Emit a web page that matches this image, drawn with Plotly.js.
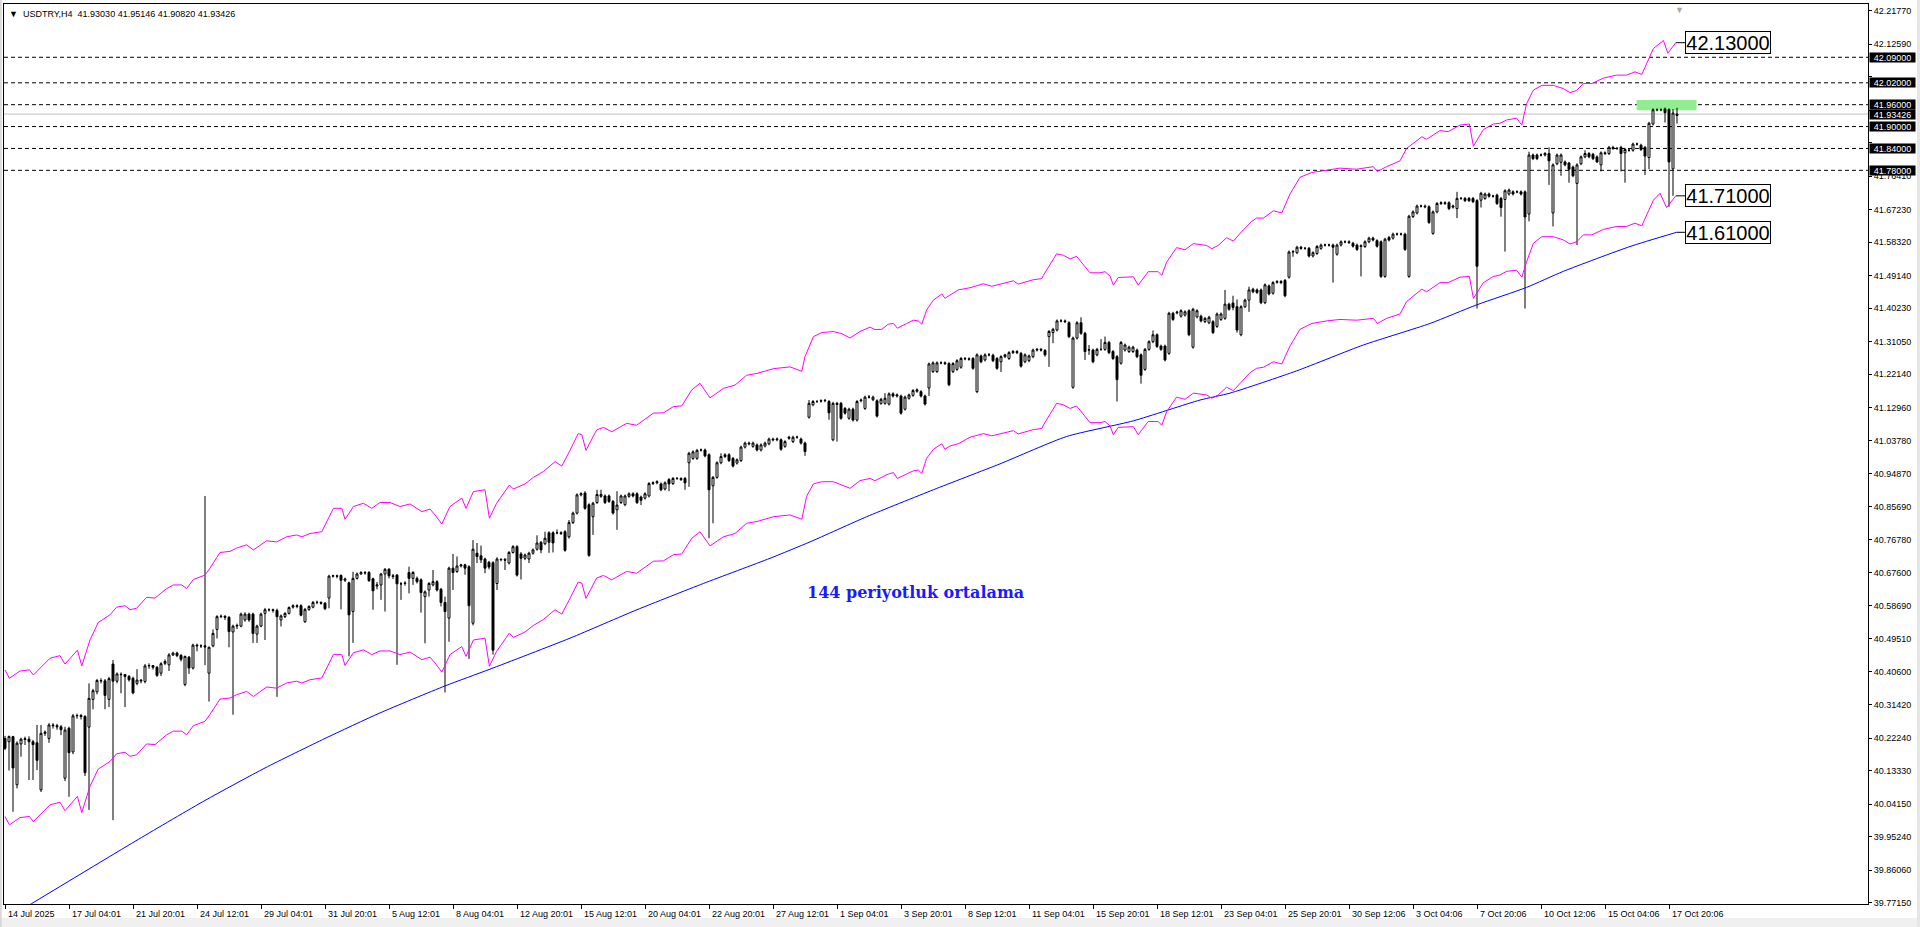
<!DOCTYPE html>
<html>
<head>
<meta charset="utf-8">
<script src="https://cdn.plot.ly/plotly-3.0.1.min.js"></script>
<style>html,body{margin:0;padding:0;background:#fff;overflow:hidden}#chart{width:1920px;height:927px}</style>
</head>
<body>
<div id="chart"></div>
<script>
// ---- H4 candles (USDTRY), one value per bar ----
const open = [
40.222,40.213,40.227,40.095,40.207,40.219,40.220,40.213,40.210,40.081,
40.236,40.222,40.259,40.257,40.254,40.113,40.250,40.185,40.284,40.285,
40.282,40.253,40.329,40.350,40.381,40.380,40.329,40.426,40.379,40.398,
40.397,40.392,40.387,40.373,40.382,40.378,40.421,40.422,40.417,40.401,
40.428,40.424,40.451,40.456,40.450,40.370,40.445,40.415,40.478,40.476,
40.476,40.401,40.476,40.521,40.556,40.557,40.554,40.514,40.530,40.530,
40.547,40.563,40.563,40.508,40.530,40.565,40.575,40.575,40.573,40.547,
40.556,40.565,40.582,40.586,40.586,40.542,40.576,40.582,40.595,40.595,
40.593,40.607,40.667,40.668,40.669,40.656,40.649,40.570,40.661,40.673,
40.677,40.677,40.660,40.640,40.643,40.673,40.686,40.668,40.670,40.646,
40.647,40.677,40.661,40.661,40.657,40.611,40.629,40.643,40.652,40.631,
40.595,40.552,40.689,40.680,40.695,40.698,40.693,40.538,40.730,40.723,
40.714,40.705,40.704,40.647,40.712,40.713,40.703,40.732,40.748,40.728,
40.716,40.714,40.730,40.741,40.760,40.756,40.786,40.786,40.786,40.786,
40.789,40.775,40.814,40.840,40.890,40.895,40.863,40.830,40.869,40.886,
40.887,40.887,40.872,40.849,40.869,40.863,40.886,40.893,40.893,40.884,
40.881,40.887,40.921,40.923,40.920,40.906,40.932,40.921,40.935,40.935,
40.935,40.978,40.990,40.990,41.013,41.013,41.000,40.915,40.938,40.978,
40.995,41.000,40.990,40.977,40.984,41.021,41.032,41.023,41.027,41.013,
41.024,41.030,41.043,41.041,41.041,41.023,41.045,41.036,41.048,41.043,
41.032,41.103,41.137,41.146,41.147,41.148,41.146,41.041,41.141,41.141,
41.127,41.100,41.125,41.095,41.148,41.127,41.158,41.151,41.148,41.141,
41.141,41.139,41.167,41.161,41.161,41.125,41.155,41.163,41.174,41.173,
41.161,41.183,41.228,41.228,41.252,41.252,41.250,41.228,41.234,41.240,
41.264,41.263,41.264,41.173,41.271,41.260,41.274,41.273,41.264,41.255,
41.269,41.264,41.280,41.283,41.278,41.255,41.258,41.269,41.287,41.289,
41.286,41.324,41.335,41.342,41.367,41.367,41.362,41.185,41.320,41.362,
41.333,41.287,41.287,41.274,41.289,41.289,41.308,41.283,41.269,41.251,
41.287,41.283,41.283,41.287,41.274,41.234,41.289,41.310,41.329,41.298,
41.298,41.278,41.388,41.389,41.380,41.383,41.395,41.295,41.378,41.380,
41.365,41.362,41.365,41.352,41.371,41.374,41.413,41.416,41.406,41.329,
41.406,41.424,41.454,41.452,41.452,41.417,41.463,41.443,41.473,41.475,
41.478,41.487,41.556,41.554,41.569,41.566,41.566,41.545,41.552,41.566,
41.575,41.575,41.575,41.550,41.575,41.584,41.584,41.580,41.575,41.571,
41.571,41.584,41.594,41.587,41.584,41.489,41.596,41.594,41.605,41.605,
41.605,41.489,41.653,41.663,41.682,41.682,41.680,41.607,41.666,41.689,
41.691,41.691,41.679,41.675,41.703,41.703,41.703,41.703,41.697,41.698,
41.703,41.715,41.709,41.712,41.703,41.700,41.715,41.721,41.721,41.721,
41.721,41.660,41.822,41.822,41.822,41.822,41.826,41.663,41.798,41.802,
41.803,41.800,41.789,41.744,41.798,41.817,41.826,41.824,41.817,41.795,
41.828,41.826,41.843,41.840,41.843,41.828,41.835,41.835,41.852,41.849,
41.843,41.815,41.907,41.946,41.946,41.948,41.946,41.784,41.93030
];
const high = [
40.229,40.230,40.229,40.214,40.224,40.227,40.228,40.218,40.259,40.259,
40.244,40.264,40.264,40.262,40.259,40.254,40.254,40.289,40.290,40.289,
40.286,40.373,40.358,40.385,40.387,40.385,40.391,40.437,40.403,40.403,
40.399,40.396,40.391,40.412,40.385,40.426,40.428,40.423,40.421,40.431,
40.439,40.456,40.460,40.460,40.453,40.449,40.448,40.482,40.482,40.480,
40.887,40.474,40.521,40.560,40.562,40.560,40.558,40.534,40.537,40.567,
40.568,40.567,40.567,40.534,40.567,40.580,40.579,40.578,40.578,40.562,
40.568,40.584,40.590,40.590,40.590,40.580,40.587,40.599,40.600,40.598,
40.596,40.671,40.671,40.671,40.672,40.663,40.652,40.679,40.677,40.681,
40.681,40.681,40.663,40.651,40.676,40.689,40.689,40.673,40.673,40.651,
40.653,40.693,40.681,40.666,40.661,40.628,40.651,40.684,40.656,40.635,
40.611,40.693,40.728,40.721,40.701,40.701,40.697,40.766,40.758,40.751,
40.718,40.709,40.708,40.719,40.716,40.717,40.736,40.752,40.752,40.733,
40.729,40.734,40.743,40.779,40.763,40.789,40.790,40.790,40.795,40.790,
40.793,40.821,40.844,40.894,40.897,40.900,40.867,40.871,40.904,40.904,
40.891,40.891,40.876,40.900,40.891,40.891,40.897,40.897,40.897,40.888,
40.897,40.925,40.927,40.930,40.924,40.927,40.936,40.939,40.939,40.938,
40.939,41.008,41.012,41.016,41.017,41.017,41.004,40.942,40.982,41.004,
41.004,41.004,40.994,40.990,41.025,41.036,41.036,41.036,41.031,41.031,
41.036,41.047,41.047,41.047,41.045,41.040,41.052,41.052,41.052,41.047,
41.036,41.150,41.150,41.150,41.152,41.153,41.150,41.145,41.145,41.145,
41.131,41.129,41.129,41.150,41.154,41.162,41.164,41.162,41.152,41.156,
41.169,41.171,41.171,41.168,41.165,41.162,41.168,41.180,41.182,41.177,
41.165,41.253,41.256,41.256,41.256,41.256,41.254,41.254,41.262,41.268,
41.268,41.267,41.268,41.278,41.275,41.278,41.279,41.277,41.268,41.273,
41.277,41.284,41.287,41.287,41.282,41.278,41.275,41.291,41.293,41.293,
41.290,41.342,41.348,41.371,41.372,41.371,41.366,41.324,41.366,41.377,
41.337,41.301,41.291,41.293,41.317,41.324,41.312,41.287,41.273,41.312,
41.305,41.299,41.299,41.291,41.278,41.293,41.314,41.341,41.333,41.302,
41.302,41.392,41.392,41.395,41.399,41.396,41.399,41.403,41.399,41.384,
41.378,41.381,41.369,41.390,41.390,41.452,41.417,41.436,41.426,41.410,
41.428,41.461,41.458,41.456,41.456,41.470,41.467,41.476,41.479,41.479,
41.482,41.560,41.561,41.573,41.573,41.570,41.570,41.558,41.575,41.579,
41.579,41.579,41.579,41.579,41.588,41.588,41.588,41.584,41.579,41.577,
41.588,41.598,41.598,41.591,41.588,41.595,41.600,41.609,41.609,41.609,
41.609,41.658,41.670,41.686,41.686,41.686,41.684,41.670,41.693,41.695,
41.695,41.695,41.686,41.721,41.707,41.707,41.707,41.707,41.701,41.721,
41.719,41.719,41.713,41.716,41.707,41.728,41.730,41.725,41.725,41.725,
41.725,41.831,41.826,41.826,41.826,41.830,41.843,41.799,41.826,41.826,
41.807,41.803,41.793,41.799,41.821,41.835,41.830,41.828,41.821,41.832,
41.832,41.847,41.847,41.844,41.847,41.841,41.839,41.856,41.856,41.853,
41.847,41.913,41.950,41.950,41.950,41.952,41.950,41.948,41.95146
];
const low = [
40.190,40.134,40.021,40.085,40.172,40.204,40.108,40.108,40.135,40.075,
40.229,40.210,40.249,40.246,40.231,40.105,40.062,40.179,40.276,40.274,
40.119,40.026,40.302,40.343,40.373,40.302,40.308,39.998,40.373,40.346,
40.308,40.378,40.343,40.368,40.373,40.373,40.413,40.411,40.391,40.393,
40.423,40.407,40.448,40.445,40.433,40.365,40.399,40.411,40.461,40.470,
40.423,40.323,40.472,40.496,40.552,40.547,40.472,40.287,40.522,40.527,
40.542,40.542,40.484,40.484,40.527,40.492,40.570,40.567,40.336,40.529,
40.552,40.562,40.578,40.579,40.557,40.539,40.572,40.579,40.590,40.589,
40.574,40.579,40.663,40.661,40.576,40.651,40.447,40.484,40.658,40.671,
40.671,40.651,40.575,40.631,40.602,40.570,40.661,40.659,40.424,40.602,
40.641,40.620,40.643,40.647,40.567,40.483,40.611,40.639,40.625,40.584,
40.348,40.487,40.629,40.676,40.691,40.671,40.440,40.532,40.703,40.703,
40.675,40.686,40.452,40.629,40.708,40.684,40.699,40.729,40.666,40.658,
40.711,40.703,40.726,40.737,40.730,40.752,40.731,40.732,40.782,40.780,
40.734,40.770,40.810,40.836,40.886,40.849,40.720,40.780,40.865,40.882,
40.865,40.868,40.836,40.794,40.865,40.859,40.882,40.883,40.865,40.862,
40.877,40.883,40.917,40.919,40.900,40.902,40.900,40.917,40.931,40.928,
40.904,40.912,40.986,40.986,41.009,40.993,40.771,40.812,40.934,40.974,
40.991,40.980,40.965,40.973,40.980,41.017,41.026,41.019,41.009,41.009,
41.020,41.026,41.037,41.037,41.011,41.019,41.041,41.032,41.044,41.028,
40.997,41.099,41.133,41.142,41.143,41.144,41.096,41.037,41.036,41.096,
41.110,41.096,41.091,41.091,41.144,41.123,41.154,41.147,41.102,41.137,
41.137,41.135,41.157,41.157,41.110,41.121,41.151,41.159,41.170,41.157,
41.135,41.161,41.224,41.224,41.248,41.246,41.188,41.224,41.230,41.236,
41.259,41.258,41.233,41.169,41.251,41.256,41.270,41.254,41.233,41.227,
41.265,41.260,41.276,41.276,41.239,41.251,41.254,41.265,41.283,41.283,
41.269,41.241,41.306,41.338,41.363,41.361,41.320,41.181,41.316,41.329,
41.260,41.274,41.251,41.270,41.285,41.285,41.276,41.260,41.146,41.247,
41.283,41.279,41.279,41.265,41.195,41.230,41.285,41.306,41.293,41.285,
41.256,41.274,41.367,41.385,41.376,41.379,41.325,41.291,41.374,41.363,
41.361,41.358,41.331,41.348,41.367,41.370,41.395,41.396,41.335,41.325,
41.402,41.392,41.443,41.441,41.413,41.413,41.437,41.439,41.469,41.468,
41.432,41.483,41.543,41.550,41.562,41.562,41.541,41.541,41.548,41.562,
41.571,41.571,41.472,41.546,41.571,41.580,41.578,41.568,41.559,41.489,
41.567,41.580,41.585,41.568,41.485,41.485,41.585,41.590,41.601,41.601,
41.559,41.485,41.649,41.659,41.678,41.676,41.633,41.603,41.662,41.685,
41.685,41.671,41.675,41.649,41.699,41.693,41.693,41.690,41.401,41.678,
41.699,41.705,41.705,41.685,41.653,41.557,41.711,41.711,41.717,41.711,
41.401,41.640,41.808,41.808,41.818,41.818,41.740,41.626,41.794,41.765,
41.791,41.746,41.761,41.575,41.794,41.813,41.813,41.808,41.800,41.777,
41.822,41.822,41.836,41.836,41.777,41.746,41.831,41.831,41.848,41.833,
41.767,41.783,41.903,41.942,41.942,41.911,41.680,41.710,41.90820
];
const close = [
40.195,40.227,40.141,40.209,40.220,40.221,40.213,40.205,40.162,40.236,
40.239,40.259,40.257,40.254,40.246,40.245,40.183,40.284,40.285,40.282,
40.128,40.332,40.353,40.381,40.380,40.340,40.386,40.379,40.399,40.397,
40.392,40.383,40.347,40.382,40.380,40.421,40.422,40.417,40.395,40.427,
40.433,40.451,40.456,40.449,40.439,40.447,40.415,40.478,40.476,40.476,
40.473,40.472,40.510,40.556,40.557,40.554,40.515,40.530,40.532,40.563,
40.563,40.547,40.510,40.530,40.563,40.575,40.575,40.573,40.556,40.558,
40.565,40.581,40.586,40.584,40.560,40.576,40.584,40.595,40.595,40.593,
40.578,40.667,40.668,40.667,40.656,40.659,40.561,40.661,40.673,40.677,
40.676,40.655,40.627,40.643,40.673,40.686,40.668,40.666,40.646,40.646,
40.648,40.661,40.677,40.652,40.622,40.624,40.647,40.652,40.629,40.595,
40.570,40.689,40.677,40.695,40.698,40.689,40.586,40.741,40.721,40.712,
40.689,40.692,40.464,40.714,40.713,40.711,40.732,40.748,40.670,40.716,
40.725,40.730,40.739,40.758,40.739,40.771,40.760,40.758,40.786,40.784,
40.738,40.814,40.840,40.890,40.893,40.853,40.724,40.867,40.891,40.891,
40.869,40.872,40.840,40.862,40.887,40.887,40.893,40.887,40.869,40.875,
40.893,40.921,40.923,40.926,40.904,40.923,40.920,40.935,40.935,40.932,
40.923,41.004,41.008,41.012,41.013,40.997,40.904,40.938,40.978,40.995,
41.000,40.984,40.969,40.986,41.021,41.032,41.030,41.032,41.013,41.027,
41.032,41.043,41.041,41.043,41.015,41.036,41.048,41.048,41.048,41.032,
41.009,41.141,41.146,41.146,41.148,41.149,41.115,41.141,41.138,41.100,
41.114,41.125,41.095,41.146,41.150,41.158,41.158,41.158,41.106,41.152,
41.155,41.167,41.161,41.164,41.114,41.158,41.164,41.176,41.178,41.161,
41.139,41.249,41.252,41.252,41.252,41.250,41.192,41.250,41.258,41.264,
41.263,41.262,41.237,41.274,41.255,41.274,41.274,41.258,41.237,41.269,
41.274,41.280,41.283,41.280,41.243,41.274,41.271,41.287,41.289,41.287,
41.274,41.338,41.344,41.367,41.367,41.365,41.324,41.320,41.362,41.333,
41.283,41.288,41.255,41.289,41.289,41.308,41.280,41.264,41.206,41.308,
41.301,41.295,41.295,41.269,41.218,41.289,41.310,41.329,41.297,41.289,
41.260,41.388,41.371,41.391,41.395,41.392,41.329,41.399,41.395,41.367,
41.374,41.377,41.335,41.386,41.386,41.413,41.399,41.404,41.342,41.406,
41.424,41.452,41.447,41.445,41.417,41.466,41.441,41.472,41.475,41.472,
41.436,41.556,41.557,41.569,41.566,41.566,41.545,41.554,41.571,41.575,
41.575,41.575,41.569,41.575,41.584,41.584,41.582,41.572,41.563,41.573,
41.584,41.594,41.589,41.572,41.489,41.591,41.589,41.605,41.605,41.605,
41.563,41.654,41.666,41.682,41.682,41.680,41.637,41.666,41.689,41.691,
41.689,41.675,41.682,41.703,41.703,41.697,41.697,41.694,41.517,41.717,
41.715,41.709,41.709,41.689,41.678,41.724,41.726,41.715,41.721,41.715,
41.652,41.822,41.812,41.812,41.822,41.826,41.806,41.795,41.822,41.822,
41.795,41.783,41.765,41.795,41.817,41.826,41.817,41.812,41.803,41.828,
41.826,41.843,41.840,41.840,41.826,41.837,41.835,41.852,41.852,41.837,
41.819,41.909,41.946,41.946,41.946,41.938,41.803,41.937,41.93426
];

// ---- Envelope upper band (bar position, price) ----
const upperX = [0,1.1,3.75,6.1,7.1,9.2,11.25,13.75,15,18.1,19.2,21.25,23.3,26.25,27.9,30,31.25,32.9,35.4,37.5,
40.4,42.1,44.2,45.4,47.1,50,51.25,53.75,56.25,57.9,60.4,62.1,65.4,67.9,70.4,72.9,74.2,76.25,79.2,82.1,
84.2,85,87.1,89.6,91.7,93.75,96.25,98.75,101.25,104.2,106.25,107.5,109.2,111.25,114.2,115.25,117.1,120,121.1,122.9,
126.1,127.1,130,132.1,134.6,137.5,139.2,141.25,143.3,144.2,145.25,147.9,149.6,151.7,155.4,157.9,162.1,164.6,167.1,169.2,
171.7,173.75,176.25,179.6,182.5,185.4,188,192.1,196.25,199.2,200,202.1,204.2,207.1,209.2,211.25,213.75,216.25,217.5,219.2,
220.8,222.1,223.1,225.4,227.1,228.3,229.2,230.4,232.1,234.2,235,236.25,238.3,241.25,244.6,246.7,248.75,252.1,253.3,257.1,
259.2,259.6,262.9,264.6,266.25,267.9,271.25,273.75,275,276.25,277.1,278.3,282.1,283.3,285.8,288.3,289.2,290.4,292.9,295,
297.1,300.4,301.7,303.3,305.4,307.1,309.6,311.7,312.9,314.6,317.1,319.2,321.25,323.75,326.7,330.4,333.75,337.9,342.1,343.1,
345.4,348.75,350.4,354.2,355.4,358.75,360.8,363.75,366.1,367.1,369.6,372.1,373.75,375.4,377.9,379.2,380.4,382.1,384.2,387.1,
389.6,391.25,392.9,394.6,396.7,399.6,402.9,405.4,407.5,409.2,412.1,414.6,415.7,417.7];
const upperY = [40.410,40.387,40.407,40.410,40.396,40.419,40.442,40.449,40.426,40.464,40.421,40.492,40.540,40.561,40.582,40.586,40.575,40.579,40.609,40.607,
40.633,40.643,40.643,40.633,40.658,40.670,40.689,40.732,40.735,40.744,40.753,40.739,40.764,40.761,40.775,40.780,40.775,40.784,40.789,40.853,
40.853,40.823,40.858,40.867,40.853,40.869,40.869,40.858,40.865,40.844,40.851,40.835,40.810,40.858,40.881,40.853,40.899,40.904,40.826,40.867,
40.917,40.906,40.920,40.938,40.954,40.981,40.969,41.012,41.058,41.055,41.012,41.068,41.075,41.063,41.086,41.081,41.114,41.115,41.132,41.134,
41.178,41.196,41.156,41.182,41.191,41.218,41.223,41.236,41.241,41.229,41.269,41.324,41.335,41.338,41.332,41.320,41.338,41.350,41.343,41.344,
41.358,41.360,41.347,41.360,41.369,41.367,41.358,41.397,41.424,41.441,41.429,41.438,41.452,41.458,41.469,41.462,41.468,41.477,41.468,41.480,
41.483,41.492,41.551,41.547,41.537,41.544,41.499,41.499,41.502,41.490,41.465,41.486,41.488,41.465,41.502,41.502,41.492,41.528,41.568,41.562,
41.579,41.574,41.565,41.574,41.595,41.586,41.617,41.640,41.649,41.649,41.669,41.663,41.715,41.761,41.774,41.781,41.786,41.783,41.790,41.777,
41.790,41.806,41.840,41.872,41.865,41.889,41.886,41.904,41.907,41.846,41.892,41.907,41.909,41.918,41.923,41.904,41.963,42.000,42.013,42.013,
42.004,41.993,41.999,42.018,42.018,42.033,42.041,42.041,42.050,42.043,42.114,42.136,42.101,42.130];

// ---- Envelope lower band ----
const lowerX = [0,1.1,3.75,6.1,7.1,9.2,11.25,13.75,15,18.1,19.2,21.25,23.3,26.25,27.9,30,31.25,32.9,35.4,37.5,
40.4,42.1,44.2,45.4,47.1,50,51.25,53.75,56.25,57.9,60.4,62.1,65.4,67.9,70.4,72.9,74.2,76.25,79.2,82.1,
84.2,85,87.1,89.6,91.7,93.75,96.25,98.75,101.25,104.2,106.25,107.5,109.2,111.25,114.2,115.25,117.1,120,121.1,122.9,
126.1,127.1,130,132.1,134.6,137.5,139.2,141.25,143.3,144.2,145.25,147.9,149.6,151.7,155.4,157.9,162.1,164.6,167.1,169.2,
171.7,173.75,176.25,179.6,182.5,185.4,188,192.1,196.25,199.2,
200.4,202.1,204.2,207.1,209.2,211.25,213.75,216.25,217.5,220.8,222.1,223.1,225.4,227.1,228.3,229.2,230.4,232.1,234.2,235,
236.25,238.3,241.25,244.6,246.7,248.75,252.1,253.3,257.1,259.2,259.6,262.9,264.6,266.25,267.9,271.25,273.75,275,276.25,277.1,
278.3,282.1,283.3,285.8,288.3,289.2,290.4,292.9,295,297.1,300.4,301.7,303.3,305.4,307.1,
311.25,312.9,314.6,317.1,319.2,321.25,323.75,326.7,330.4,333.75,337.9,342.1,343.1,345.4,348.75,350.4,354.2,355.4,358.75,360.8,
363.75,366.1,367.1,369.6,372.1,373.75,375.4,377.9,379.2,380.4,382.1,384.2,387.1,389.6,391.25,392.9,394.6,396.7,399.6,402.9,
405.4,407.5,409.2,412.1,413.75,415.4,417.7];
const lowerY = [40.008,39.985,40.005,40.008,39.994,40.017,40.040,40.047,40.024,40.063,40.019,40.091,40.138,40.159,40.180,40.184,40.173,40.177,40.207,40.205,
40.232,40.242,40.242,40.232,40.257,40.269,40.288,40.330,40.333,40.342,40.351,40.337,40.363,40.360,40.374,40.379,40.374,40.383,40.388,40.452,
40.452,40.422,40.457,40.465,40.452,40.462,40.462,40.452,40.459,40.438,40.445,40.429,40.404,40.452,40.474,40.447,40.492,40.497,40.420,40.461,
40.511,40.499,40.514,40.532,40.548,40.575,40.563,40.606,40.651,40.648,40.606,40.662,40.669,40.657,40.680,40.675,40.708,40.709,40.726,40.728,
40.771,40.789,40.750,40.775,40.784,40.812,40.817,40.830,40.835,40.823,
40.886,40.920,40.926,40.926,40.917,40.908,40.929,40.935,40.929,40.947,40.951,40.935,40.947,40.956,40.958,40.949,40.990,41.015,41.030,41.015,
41.024,41.030,41.048,41.058,41.052,41.057,41.066,41.057,41.069,41.072,41.081,41.141,41.137,41.127,41.134,41.088,41.088,41.091,41.079,41.055,
41.075,41.077,41.055,41.091,41.091,41.081,41.118,41.158,41.152,41.169,41.164,41.155,41.164,41.185,41.176,
41.225,41.237,41.240,41.255,41.249,41.298,41.344,41.360,41.367,41.371,41.369,41.374,41.360,41.374,41.386,41.420,41.454,41.447,41.472,41.472,
41.487,41.489,41.429,41.472,41.489,41.493,41.503,41.506,41.487,41.529,41.580,41.598,41.598,41.589,41.578,41.584,41.603,41.603,41.618,41.626,
41.626,41.635,41.628,41.698,41.717,41.678,41.710];

// ---- 144-period moving average ----
const maX = [0,33.3,50,65,80,93.75,110,121.25,141.25,158,174.6,191.25,201.25,215.4,232.1,248.75,265.4,282.1,298.75,306.25,322.9,339.6,356.25,367.9,380.4,389.6,406.25,417.9];
const maY = [39.725,39.945,40.052,40.141,40.222,40.292,40.366,40.412,40.497,40.575,40.647,40.716,40.761,40.830,40.904,40.975,41.050,41.093,41.150,41.169,41.230,41.301,41.360,41.411,41.459,41.503,41.571,41.610];

// ---- axis labels / levels ----
const yTicks = [42.2177,42.1259,42.0368,41.9450,41.8559,41.7641,41.6723,41.5832,41.4914,41.4023,41.3105,41.2214,41.1296,41.0378,
40.9487,40.8569,40.7678,40.6760,40.5869,40.4951,40.4060,40.3142,40.2224,40.1333,40.0415,39.9524,39.8606,39.7715];
const coveredTicks = [42.0368,41.9450,41.8559];   // hidden behind the level boxes in the reference
const xLabelBars = [0,16,32,48,64,80,96,112,128,144,160,176,192,208,224,240,256,272,288,304,320,336,352,368,384,400,416];
const xLabelText = ['14 Jul 2025','17 Jul 04:01','21 Jul 20:01','24 Jul 12:01','29 Jul 04:01','31 Jul 20:01','5 Aug 12:01',
'8 Aug 04:01','12 Aug 20:01','15 Aug 12:01','20 Aug 04:01','22 Aug 20:01','27 Aug 12:01','1 Sep 04:01','3 Sep 20:01',
'8 Sep 12:01','11 Sep 04:01','15 Sep 20:01','18 Sep 12:01','23 Sep 04:01','25 Sep 20:01','30 Sep 12:06','3 Oct 04:06',
'7 Oct 20:06','10 Oct 12:06','15 Oct 04:06','17 Oct 20:06'];
const levels = [42.09,42.02,41.96,41.90,41.84,41.78];
const bidPrice = 41.93426;
const priceLabels = [42.13,41.71,41.61];
const header = 'USDTRY,H4';
const headerOHLC = [41.93030,41.95146,41.90820,41.93426];

const barIdx = close.map((_, i) => i);
const F = 'Liberation Sans, Arial, sans-serif';

const traces = [
  {type:'scatter', mode:'lines', x:maX, y:maY, line:{color:'#0000ff', width:1, shape:'spline', smoothing:0.6}, hoverinfo:'skip'},
  {type:'scatter', mode:'lines', x:upperX, y:upperY, line:{color:'#ff00ff', width:1}, hoverinfo:'skip'},
  {type:'scatter', mode:'lines', x:lowerX, y:lowerY, line:{color:'#ff00ff', width:1}, hoverinfo:'skip'},
  {type:'candlestick', x:barIdx, open:open, high:high, low:low, close:close,
   increasing:{line:{color:'#000000', width:1}, fillcolor:'#ffffff'},
   decreasing:{line:{color:'#000000', width:1}, fillcolor:'#000000'},
   whiskerwidth:0, hoverinfo:'skip'}
];

const shapes = [];
// window chrome
shapes.push({type:'rect', xref:'paper', yref:'paper', x0:-0.0022, x1:1.028, y0:-0.0156, y1:-0.026, fillcolor:'#f0f0f0', line:{width:0}, layer:'below'});
shapes.push({type:'rect', xref:'paper', yref:'paper', x0:1.0263, x1:1.028, y0:-0.026, y1:1.0045, fillcolor:'#e6e6e6', line:{width:0}, layer:'below'});
shapes.push({type:'rect', xref:'paper', yref:'paper', x0:-0.0022, x1:-0.0012, y0:-0.026, y1:1.0045, fillcolor:'#d8d8d8', line:{width:0}, layer:'below'});
// green zone
shapes.push({type:'rect', xref:'x', yref:'y', x0:407.9, x1:422.9, y0:41.945, y1:41.973, fillcolor:'#90ee90', line:{width:0}, layer:'below'});
// bid line
shapes.push({type:'line', xref:'paper', yref:'y', x0:0, x1:1, y0:bidPrice, y1:bidPrice, line:{color:'#c0c0c0', width:1}, layer:'below'});
// horizontal dashed levels
levels.forEach(v => shapes.push({type:'line', xref:'paper', yref:'y', x0:0, x1:1, y0:v, y1:v,
  line:{color:'#000000', width:1, dash:'4px,3px'}, layer:'below'}));
// connectors to price labels
const connFrom = [417.7, 417.7, 417.9];
priceLabels.forEach((v, i) => shapes.push({type:'line', xref:'x', yref:'y', x0:connFrom[i], x1:420, y0:v, y1:v,
  line:{color:'#000000', width:1}}));

const annotations = [];
xLabelBars.forEach((b, i) => annotations.push({xref:'x', yref:'paper', x:b, y:0, yanchor:'top', xanchor:'left',
  yshift:-3, xshift:1, text:xLabelText[i], showarrow:false, font:{family:F, size:9, color:'#000'}}));
levels.concat([bidPrice]).forEach(v => annotations.push({xref:'paper', yref:'y', x:1, y:v, xanchor:'left', yanchor:'middle',
  xshift:1, text:v.toFixed(5), showarrow:false, bgcolor:'#000000', borderpad:0.5, width:44, height:8,
  font:{family:F, size:9, color:'#ffffff'}}));
priceLabels.forEach(v => annotations.push({xref:'x', yref:'y', x:420, y:v, xanchor:'left', yanchor:'middle',
  text:v.toFixed(5), showarrow:false, bgcolor:'#ffffff', bordercolor:'#000000', borderwidth:1, borderpad:0,
  width:84, height:21, font:{family:F, size:20, color:'#000'}}));
annotations.push({xref:'x', yref:'y', x:200, y:40.621, xanchor:'left', yanchor:'middle', showarrow:false,
  text:'<b>144 periyotluk ortalama</b>', font:{family:'DejaVu Serif, serif', size:16, color:'#1a1aff'}});
annotations.push({xref:'paper', yref:'paper', x:0, y:1, xanchor:'left', yanchor:'top', xshift:3, yshift:-3, showarrow:false,
  text:'\u25BC\u00a0\u00a0' + header + '\u00a0\u00a0' + headerOHLC.map(v => v.toFixed(5)).join(' '),
  font:{family:F, size:9, color:'#000'}});
annotations.push({xref:'x', yref:'paper', x:418.5, y:1, xanchor:'center', yanchor:'top', yshift:1, showarrow:false,
  text:'\u25BC', font:{family:F, size:9, color:'#a8a8a8'}});

const layout = {
  width:1920, height:927,
  margin:{l:4, r:52, t:4, b:23, pad:0},
  paper_bgcolor:'#ffffff', plot_bgcolor:'#ffffff',
  showlegend:false, dragmode:false,
  font:{family:F, size:9, color:'#000'},
  xaxis:{range:[-0.25, 465.75], showgrid:false, zeroline:false, showline:true, mirror:true, linecolor:'#000', linewidth:1,
    ticks:'outside', ticklen:4, tickcolor:'#000', tickvals:xLabelBars, showticklabels:false,
    rangeslider:{visible:false}, fixedrange:true},
  yaxis:{range:[39.7680, 42.2361], side:'right', showgrid:false, zeroline:false, showline:true, mirror:true,
    linecolor:'#000', linewidth:1, ticks:'outside', ticklen:3, tickcolor:'#000',
    tickvals:yTicks, ticktext:yTicks.map(v => coveredTicks.includes(v) ? '' : v.toFixed(5)),
    tickfont:{family:F, size:9, color:'#000'}, fixedrange:true},
  shapes:shapes,
  annotations:annotations
};

Plotly.newPlot('chart', traces, layout, {displayModeBar:false, staticPlot:true});
</script>
</body>
</html>
